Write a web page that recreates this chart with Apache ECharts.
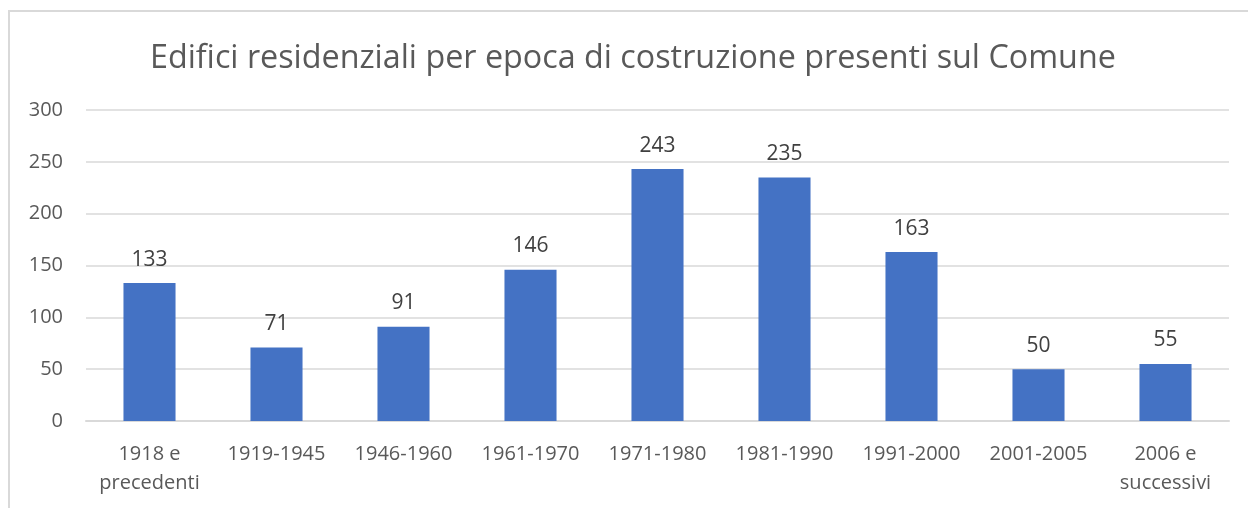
<!DOCTYPE html>
<html><head><meta charset="utf-8">
<script src="https://cdn.jsdelivr.net/npm/echarts@6/dist/echarts.min.js"></script>
<style>html,body{margin:0;padding:0;background:#fff}#c{width:1248px;height:508px}</style>
</head><body><div id="c"></div>
<script>
const categories = ['1918 e\nprecedenti','1919-1945','1946-1960','1961-1970','1971-1980','1981-1990','1991-2000','2001-2005','2006 e\nsuccessivi'];
const values = [133, 71, 91, 146, 243, 235, 163, 50, 55];
const titleText = 'Edifici residenziali per epoca di costruzione presenti sul Comune';
const font = '"Open Sans", "Noto Sans", sans-serif';
const chart = echarts.init(document.getElementById('c'));
chart.setOption({
  animation: false,
  graphic: [{type:'rect', shape:{x:9,y:11,width:1300,height:560}, style:{fill:'none',stroke:'#d9d9d9',lineWidth:2}, silent:true}],
  title: {text: titleText, left: 145, top: 38, textStyle:{fontFamily:font, fontSize:32.3, fontWeight:'normal', color:'#595959'}},
  grid: {left: 86, right: 19, top: 110, bottom: 87},
  xAxis: {type:'category', data: categories,
    axisLine:{lineStyle:{color:'#d9d9d9', width:2}}, axisTick:{show:false},
    axisLabel:{fontFamily:font, fontSize:20, color:'#595959', lineHeight:29, margin:19, interval:0}},
  yAxis: {type:'value', min:0, max:300, interval:50,
    axisLine:{show:false}, axisTick:{show:false},
    splitLine:{lineStyle:{color:'#d9d9d9', width:1.5}},
    axisLabel:{fontFamily:font, fontSize:20, color:'#595959', margin:23}},
  series: [{type:'bar', data: values, barWidth:'41%', itemStyle:{color:'#4472C4'},
    label:{show:true, position:'top', distance:13, fontFamily:font, fontSize:21, color:'#404040'}}]
});
</script></body></html>
